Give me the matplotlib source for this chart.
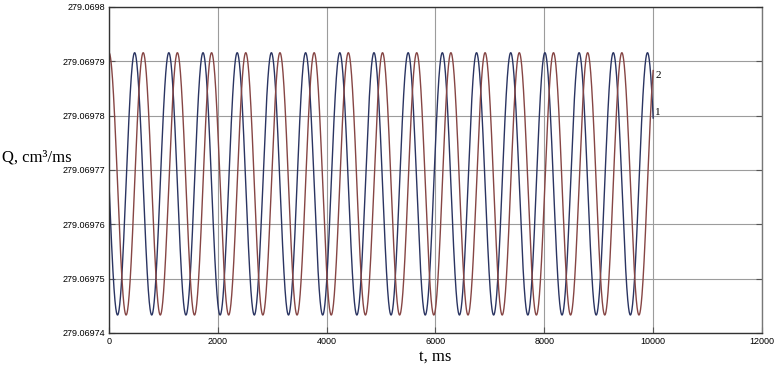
import numpy as np
import matplotlib
matplotlib.use('Agg')
import matplotlib.pyplot as plt

# values
t_end = 10000.0                 # ms, both curves end here
q_mean = 279.06976745           # cm3/ms, centre line of the oscillation
q_amp = 2.414e-5                # cm3/ms, half swing
period = 628.3                  # ms
peak_1 = 471.0                  # ms, first peak of curve 1
peak_2 = 0.0                    # ms, first peak of curve 2
curve_labels = ['1', '2']

x_ticks = [0, 2000, 4000, 6000, 8000, 10000, 12000]
y_ticks = [279.06974, 279.06975, 279.06976, 279.06977, 279.06978, 279.06979, 279.0698]
y_tick_labels = ['279.06974', '279.06975', '279.06976', '279.06977',
                 '279.06978', '279.06979', '279.0698']

colors = ['#2a3462', '#864544']

t = np.linspace(0, t_end, 4001)
q1 = q_mean + q_amp * np.cos(2 * np.pi * (t - peak_1) / period)
q2 = q_mean + q_amp * np.cos(2 * np.pi * (t - peak_2) / period)

fig = plt.figure(figsize=(7.79, 3.67), dpi=100)
ax = fig.add_axes([109 / 779, 1 - 333 / 367, (762 - 109) / 779, (333 - 7) / 367])

ax.plot(t, q1, color=colors[0], lw=1.0)
ax.plot(t, q2, color=colors[1], lw=1.0)

# label 1 sits a little above the end of its curve, label 2 a little below
for lab, q, dy in zip(curve_labels, [q1, q2], [0.1e-5, -0.1e-5]):
    ax.text(t_end + 40, q[-1] + dy, lab, fontsize=8, family='Liberation Serif',
            ha='left', va='center')

ax.set_xlim(0, 12000)
ax.set_ylim(y_ticks[0], y_ticks[-1])
ax.set_xticks(x_ticks)
ax.set_xticklabels([str(v) for v in x_ticks], family='Liberation Sans', fontsize=6.5)
ax.set_yticks(y_ticks)
ax.set_yticklabels(y_tick_labels, family='Liberation Sans', fontsize=6.5)
ax.tick_params(direction='in', length=4, width=0.8, color='#555555', pad=3,
               right=True, top=False)

ax.grid(color='#9c9c9c', linewidth=0.8)
for s in ax.spines.values():
    s.set_linewidth(1.0)
    s.set_color('#333333')
ax.spines['right'].set_color('#777777')

ax.set_xlabel('t, ms', family='Liberation Serif', fontsize=12, labelpad=2)
fig.text(2 / 779, 1 - 158 / 367, 'Q, cm\u00b3/ms', family='Liberation Serif',
         fontsize=12, ha='left', va='center')

fig.savefig('out.png', dpi=100)
